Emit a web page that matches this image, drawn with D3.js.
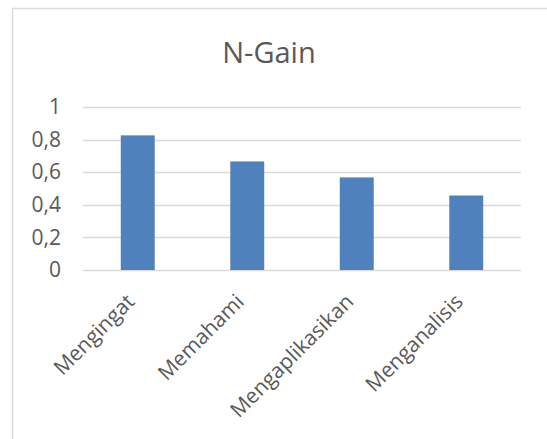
<!DOCTYPE html>
<html>
<head>
<meta charset="utf-8">
<script src="https://cdn.jsdelivr.net/npm/d3@7"></script>
<style>
  body { margin: 0; background: #fff; }
  svg { display: block; font-family: "Open Sans", sans-serif; }
</style>
</head>
<body>
<div id="chart"></div>
<script>
var categories = ['Mengingat', 'Memahami', 'Mengaplikasikan', 'Menganalisis'];
var nGain = [0.826, 0.666, 0.568, 0.457];
var yTicks = [0, 0.2, 0.4, 0.6, 0.8, 1];

var width = 547, height = 439;
var margin = { top: 107, right: 26, bottom: 169, left: 83 };
var labelFont = '"Open Sans", sans-serif';

var svg = d3.select('#chart').append('svg')
  .attr('width', width)
  .attr('height', height);

// chart frame (right and bottom edges fall outside the picture)
svg.append('rect')
  .attr('x', 12.5)
  .attr('y', 8.5)
  .attr('width', 700)
  .attr('height', 600)
  .attr('fill', 'none')
  .attr('stroke', '#d9d9d9')
  .attr('stroke-width', 1.5);

svg.append('text')
  .attr('x', 269)
  .attr('y', 63)
  .attr('text-anchor', 'middle')
  .attr('font-size', 29)
  .attr('fill', '#595959')
  .text('N-Gain');

var x = d3.scaleBand()
  .domain(categories)
  .range([margin.left, width - margin.right])
  .paddingInner(0.69)
  .paddingOuter(0.345);

var y = d3.scaleLinear()
  .domain([0, 1])
  .range([height - margin.bottom, margin.top]);

// gridlines
svg.append('g')
  .selectAll('line')
  .data(yTicks)
  .enter()
  .append('line')
  .attr('x1', margin.left)
  .attr('x2', width - margin.right)
  .attr('y1', function(d) { return Math.round(y(d)) + 0.5; })
  .attr('y2', function(d) { return Math.round(y(d)) + 0.5; })
  .attr('stroke', '#d9d9d9')
  .attr('stroke-width', 1.5);

// y axis labels
var yAxis = d3.axisLeft(y)
  .tickValues(yTicks)
  .tickSize(0)
  .tickPadding(22)
  .tickFormat(function(d) { return String(d).replace('.', ','); });

var yg = svg.append('g')
  .attr('transform', 'translate(' + margin.left + ',0)')
  .call(yAxis);
yg.select('.domain').remove();
yg.selectAll('text')
  .attr('font-size', 21)
  .attr('font-family', labelFont)
  .attr('fill', '#595959');

// bars
svg.append('g')
  .selectAll('rect')
  .data(nGain)
  .enter()
  .append('rect')
  .attr('x', function(d, i) { return x(categories[i]); })
  .attr('y', function(d) { return y(d); })
  .attr('width', x.bandwidth())
  .attr('height', function(d) { return y(0) - y(d); })
  .attr('fill', '#4f81bd');

// x axis labels, rotated
var xAxis = d3.axisBottom(x).tickSize(0).tickPadding(0);
var xg = svg.append('g')
  .attr('transform', 'translate(0,' + y(0) + ')')
  .call(xAxis);
xg.select('.domain').remove();
xg.selectAll('text')
  .attr('font-size', 21)
  .attr('font-family', labelFont)
  .attr('fill', '#595959')
  .attr('text-anchor', 'end')
  .attr('dy', 0)
  .attr('transform', 'translate(-2,33) rotate(-45)');
</script>
</body>
</html>
